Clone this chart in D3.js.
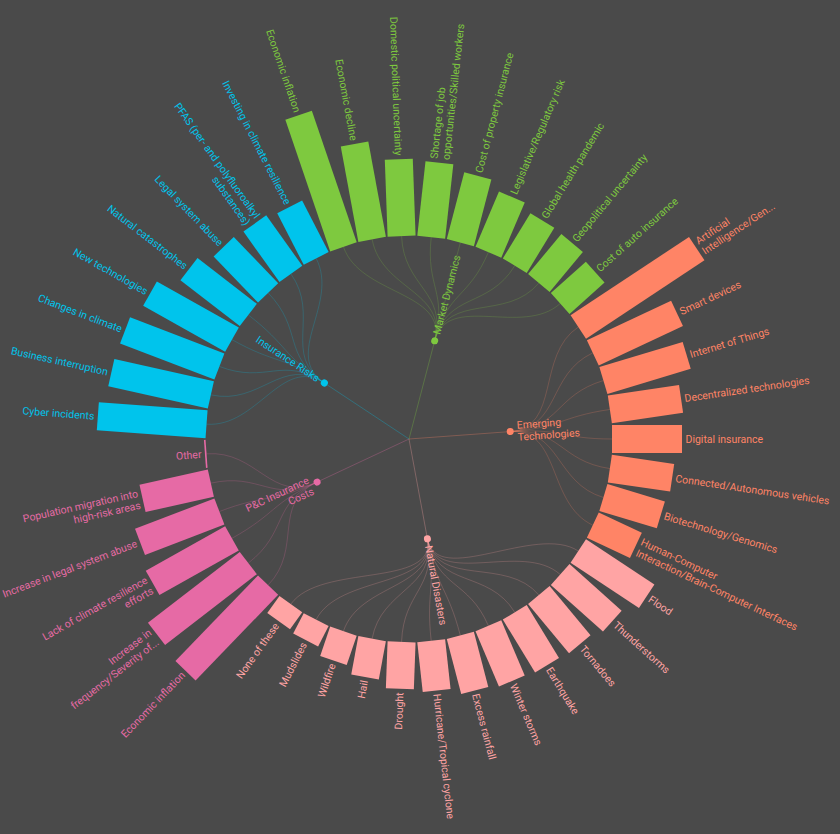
<!DOCTYPE html>
<html>
<head>
<meta charset="utf-8">
<script src="https://cdn.jsdelivr.net/npm/d3@7"></script>
<style>
	body { margin: 0; background: #4a4a4a; }
	text { font-family: Roboto, "Noto Sans", sans-serif; font-size: 10.5px; }
</style>
</head>
<body>
<svg id="chart" width="840" height="834"></svg>
<script>
// Groups (inner ring) and their colours
var groupNames = ["Market Dynamics", "Emerging Technologies", "Natural Disasters", "P&C Insurance Costs", "Insurance Risks"];
var groupLabels = ["Market Dynamics", "Emerging|Technologies", "Natural Disasters", "P&C Insurance|Costs", "Insurance Risks"];
var groupColors = ["#7ec93f", "#ff8466", "#ffa4a4", "#e66aa5", "#00c4ec"];

// Leaves, "|" marks a line break in the label
var marketDynamics = ["Economic inflation", "Economic decline", "Domestic political uncertainty",
	"Shortage of job|opportunities/Skilled workers", "Cost of property insurance", "Legislative/Regulatory risk",
	"Global health pandemic", "Geopolitical uncertainty", "Cost of auto insurance"];
var marketDynamicsValues = [69.5, 48.5, 38.5, 37.5, 34.5, 30, 26.5, 26, 23.5];

var emergingTech = ["Artificial|Intelligence/Gen...", "Smart devices", "Internet of Things", "Decentralized technologies",
	"Digital insurance", "Connected/Autonomous vehicles", "Biotechnology/Genomics",
	"Human-Computer|Interaction/Brain-Computer Interfaces"];
var emergingTechValues = [71, 46.5, 43.5, 36, 35, 31.5, 30, 23.8];

var naturalDisasters = ["Flood", "Thunderstorms", "Tornadoes", "Earthquake", "Winter storms", "Excess rainfall",
	"Hurricane/Tropical cyclone", "Drought", "Hail", "Wildfire", "Mudslides", "None of these"];
var naturalDisastersValues = [41, 35, 32, 31, 30, 28.5, 25, 23.5, 19.5, 15.5, 11.5, 10.5];

var pcCosts = ["Economic inflation", "Increase in|frequency/Severity of...", "Lack of climate resilience|efforts",
	"Increase in legal system abuse", "Population migration into|high-risk areas", "Other"];
var pcCostsValues = [59.5, 58, 45.5, 42.5, 35, 0.8];

var insuranceRisks = ["Cyber incidents", "Business interruption", "Changes in climate", "New technologies",
	"Natural catastrophes", "Legal system abuse", "PFAS (per- and polyfluoroalkyl|substances)",
	"Investing in climate resilience"];
var insuranceRisksValues = [54.5, 51, 50.5, 47, 37.5, 32, 31, 29];

var leafNames = [marketDynamics, emergingTech, naturalDisasters, pcCosts, insuranceRisks];
var leafValues = [marketDynamicsValues, emergingTechValues, naturalDisastersValues, pcCostsValues, insuranceRisksValues];

var width = 840,
	height = 834,
	cx = 409,
	cy = 439,
	innerR = 203,
	barWidth = 28,
	labelGap = 3.5,
	offset = -23.02 * Math.PI / 180;

var svg = d3.select("#chart");
svg.append("rect").attr("width", width).attr("height", height).attr("fill", "#4a4a4a");

var g = svg.append("g").attr("transform", "translate(" + cx + "," + cy + ")");

// build hierarchy
var tree = {
	name: "root",
	children: groupNames.map(function(name, i) {
		return {
			name: name,
			label: groupLabels[i],
			gi: i,
			children: leafNames[i].map(function(n, j) {
				return { name: n, value: leafValues[i][j], gi: i };
			})
		};
	})
};

var root = d3.hierarchy(tree);

// cluster leaves evenly round the whole circle
d3.cluster()
	.size([2 * Math.PI, innerR])
	.separation(() => 1)(root);

root.each(function(d) { d.x += offset; });

var y = d3.scaleLinear()
	.domain([0, 100])
	.range([innerR, innerR + 200]);

function isLeft(a) {
	var t = ((a % (2 * Math.PI)) + 2 * Math.PI) % (2 * Math.PI);
	return t > Math.PI;
}

// links root -> groups
g.append("g")
	.selectAll("line")
	.data(root.children)
	.enter()
	.append("line")
	.attr("x1", 0)
	.attr("y1", 0)
	.attr("x2", (d) => d3.pointRadial(d.x, d.y)[0])
	.attr("y2", (d) => d3.pointRadial(d.x, d.y)[1])
	.attr("stroke", (d) => groupColors[d.data.gi])
	.attr("stroke-opacity", 0.3)
	.attr("stroke-width", 1);

// links groups -> leaves
var linkRadial = d3.linkRadial()
	.angle((d) => d.x)
	.radius((d) => d.y);

g.append("g")
	.attr("fill", "none")
	.selectAll("path")
	.data(root.links().filter((l) => l.source.depth === 1))
	.enter()
	.append("path")
	.attr("d", linkRadial)
	.attr("stroke", (d) => groupColors[d.target.data.gi])
	.attr("stroke-opacity", 0.22)
	.attr("stroke-width", 1);

// bars
var leaves = root.leaves();

g.append("g")
	.selectAll("rect")
	.data(leaves)
	.enter()
	.append("rect")
	.attr("x", innerR)
	.attr("y", -barWidth / 2)
	.attr("width", (d) => y(d.data.value) - innerR)
	.attr("height", barWidth)
	.attr("transform", (d) => "rotate(" + (d.x * 180 / Math.PI - 90) + ")")
	.attr("fill", (d) => groupColors[d.data.gi]);

// multi-line labels
function addLines(sel, lh) {
	sel.each(function(d) {
		var lines = (d.data.label || d.data.name).split("|");
		var t = d3.select(this);
		lines.forEach(function(line, i) {
			t.append("tspan")
				.attr("x", 0)
				.attr("y", (i - (lines.length - 1) / 2) * lh)
				.attr("dy", "0.35em")
				.text(line);
		});
	});
}

g.append("g")
	.selectAll("text")
	.data(leaves)
	.enter()
	.append("text")
	.attr("transform", function(d) {
		var left = isLeft(d.x);
		return "rotate(" + (d.x * 180 / Math.PI - 90) + ") translate(" + (y(d.data.value) + labelGap) + ",0)" + (left ? " rotate(180)" : "");
	})
	.attr("text-anchor", (d) => isLeft(d.x) ? "end" : "start")
	.attr("fill", (d) => groupColors[d.data.gi])
	.call(addLines, 12);

// group nodes
var groupsG = g.append("g")
	.selectAll("g")
	.data(root.children)
	.enter()
	.append("g")
	.attr("transform", (d) => "rotate(" + (d.x * 180 / Math.PI - 90) + ") translate(" + d.y + ",0)");

groupsG.append("circle")
	.attr("r", 3.5)
	.attr("fill", (d) => groupColors[d.data.gi]);

groupsG.append("text")
	.attr("transform", (d) => isLeft(d.x) ? "translate(7,0) rotate(180)" : "translate(7,0)")
	.attr("text-anchor", (d) => isLeft(d.x) ? "end" : "start")
	.attr("fill", (d) => groupColors[d.data.gi])
	.call(addLines, 12);
</script>
</body>
</html>
